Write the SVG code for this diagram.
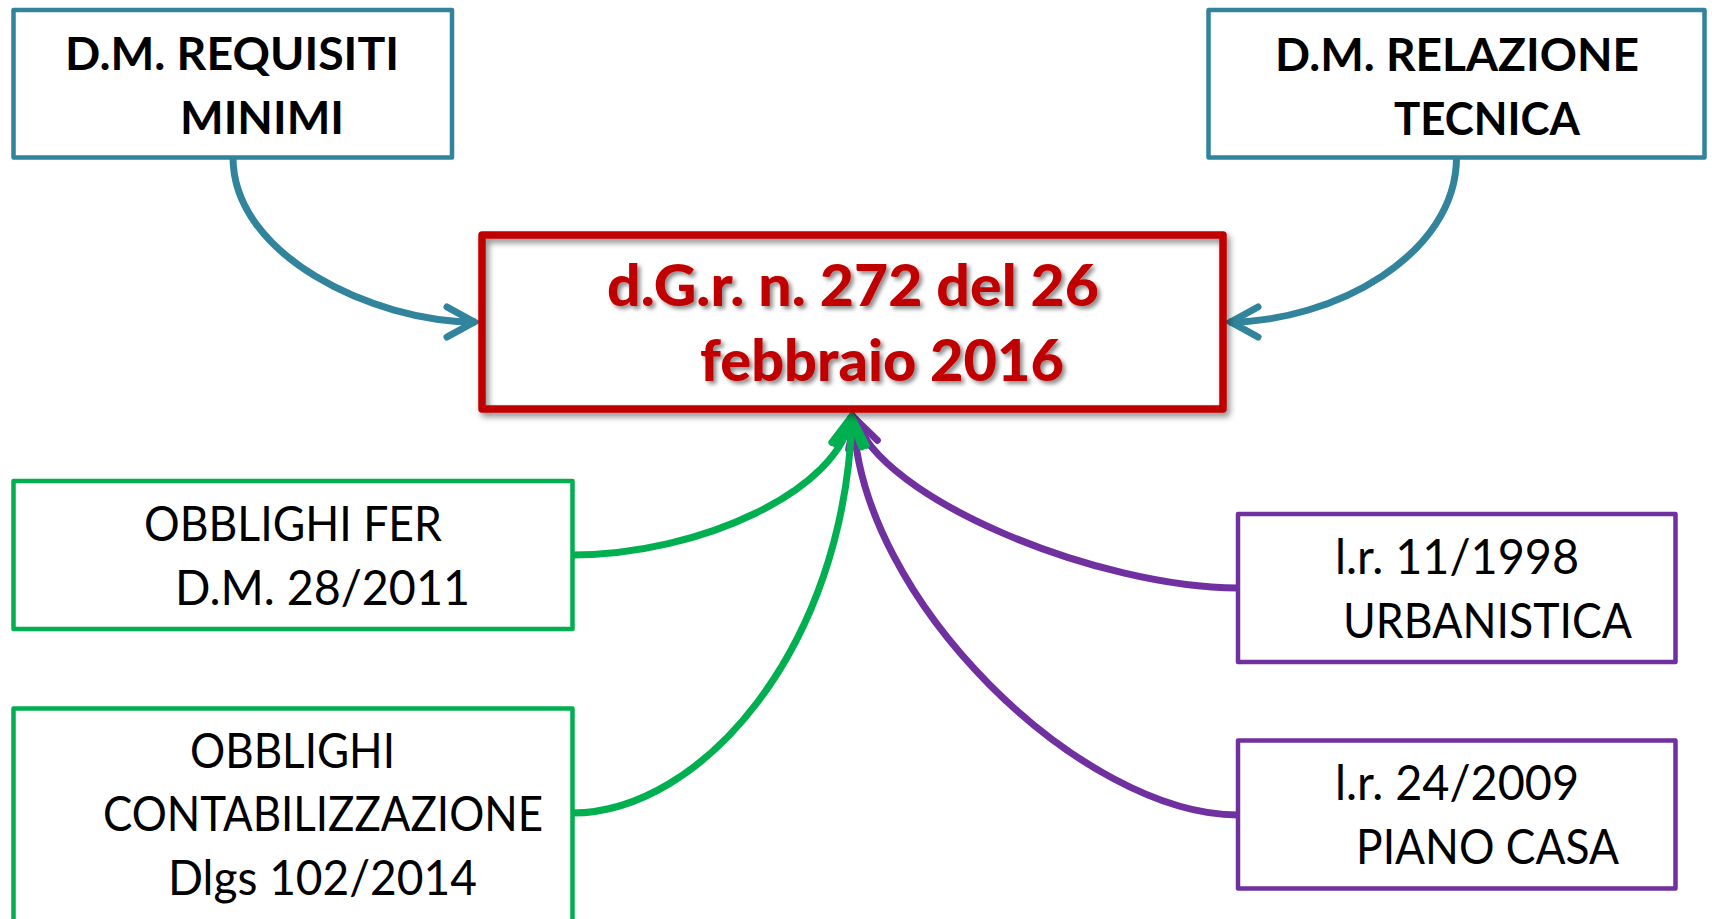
<svg xmlns="http://www.w3.org/2000/svg" width="1712" height="919" viewBox="0 0 1712 919">
  <defs>
    <style>
      .box { fill: #ffffff; stroke-width: 4.5; stroke-linejoin: round; }
      .teal { stroke: #31849B; }
      .green { stroke: #00B050; }
      .purple { stroke: #7030A0; }
      .title { font-family: Lato, "Liberation Sans", sans-serif; font-weight: bold; font-size: 46px; fill: #000000; }
      .label { font-family: Lato, "Liberation Sans", sans-serif; font-size: 49px; fill: #000000; }
      .main { font-family: Lato, "Liberation Sans", sans-serif; font-weight: 900; font-size: 57px; fill: #C00000; }
      .conn { fill: none; stroke-width: 7; stroke-linecap: butt; }
    </style>
    <filter id="shadow" x="-10%" y="-10%" width="125%" height="130%">
      <feDropShadow dx="3" dy="4" stdDeviation="3" flood-color="#000000" flood-opacity="0.45"/>
    </filter>
    <filter id="tshadow" x="-5%" y="-20%" width="115%" height="150%">
      <feDropShadow dx="3" dy="3" stdDeviation="2" flood-color="#000000" flood-opacity="0.45"/>
    </filter>
    <marker id="arrTeal" markerUnits="userSpaceOnUse" markerWidth="60" markerHeight="60" viewBox="-40 -30 60 60" refX="0" refY="0" orient="auto" overflow="visible">
      <path d="M-29,-15 L-1.8,0 L-29,15" fill="none" stroke="#31849B" stroke-width="7" stroke-linecap="round" stroke-linejoin="miter"/>
    </marker>
    <marker id="arrGreen" markerUnits="userSpaceOnUse" markerWidth="60" markerHeight="60" viewBox="-40 -30 60 60" refX="0" refY="0" orient="auto" overflow="visible">
      <path d="M-29,-15 L-1.8,0 L-29,15" fill="none" stroke="#00B050" stroke-width="7" stroke-linecap="round" stroke-linejoin="miter"/>
    </marker>
    <marker id="arrPurple" markerUnits="userSpaceOnUse" markerWidth="60" markerHeight="60" viewBox="-40 -30 60 60" refX="0" refY="0" orient="auto" overflow="visible">
      <path d="M-29,-15 L-1.8,0 L-29,15" fill="none" stroke="#7030A0" stroke-width="7" stroke-linecap="round" stroke-linejoin="miter"/>
    </marker>
  </defs>

  <rect x="0" y="0" width="1712" height="919" fill="#ffffff"/>

  <g id="connectors">
    <path class="conn" stroke="#31849B" marker-end="url(#arrTeal)" d="M233,157.5 C233,255 372,322 476,322"/>
    <path class="conn" stroke="#31849B" marker-end="url(#arrTeal)" d="M1456.5,157.5 C1456.5,255 1333,322 1229,322"/>
    <path class="conn" stroke="#7030A0" marker-end="url(#arrPurple)" d="M1238,588 C1100,588 880,500 854.5,417"/>
    <path class="conn" stroke="#7030A0" marker-end="url(#arrPurple)" d="M1238,815 C1083,815 858,600 853.5,416"/>
    <path class="conn" stroke="#00B050" marker-end="url(#arrGreen)" d="M572.5,555 C700,555 840,490 851,416"/>
    <path class="conn" stroke="#00B050" marker-end="url(#arrGreen)" d="M572.5,813 C700,813 845,650 852,416"/>
  </g>

  <g id="node-dgr">
    <rect x="482" y="235" width="741" height="174" fill="none" stroke="#C00000" stroke-width="7.5" stroke-linejoin="round" filter="url(#shadow)"/>
    <g filter="url(#tshadow)">
      <text class="main" x="607" y="306" textLength="492" lengthAdjust="spacingAndGlyphs">d.G.r. n. 272 del 26</text>
      <text class="main" x="700" y="381" textLength="364" lengthAdjust="spacingAndGlyphs">febbraio 2016</text>
    </g>
  </g>

  <g id="node-requisiti">
    <rect class="box teal" x="13.5" y="10" width="438.5" height="147.5"/>
    <text class="title" x="65" y="70" textLength="334" lengthAdjust="spacingAndGlyphs">D.M. REQUISITI</text>
    <text class="title" x="180" y="134" textLength="164" lengthAdjust="spacingAndGlyphs">MINIMI</text>
  </g>

  <g id="node-relazione">
    <rect class="box teal" x="1208.5" y="10" width="496" height="147.5"/>
    <text class="title" x="1275" y="71" textLength="364" lengthAdjust="spacingAndGlyphs">D.M. RELAZIONE</text>
    <text class="title" x="1394" y="135" textLength="186" lengthAdjust="spacingAndGlyphs">TECNICA</text>
  </g>

  <g id="node-fer">
    <rect class="box green" x="13.5" y="481" width="559" height="148"/>
    <text class="label" x="144" y="541" textLength="298" lengthAdjust="spacingAndGlyphs">OBBLIGHI FER</text>
    <text class="label" x="175" y="605" textLength="295" lengthAdjust="spacingAndGlyphs">D.M. 28/2011</text>
  </g>

  <g id="node-contabilizzazione">
    <rect class="box green" x="13.5" y="708.5" width="559" height="220"/>
    <text class="label" x="190" y="768" textLength="205" lengthAdjust="spacingAndGlyphs">OBBLIGHI</text>
    <text class="label" x="103" y="831" textLength="440" lengthAdjust="spacingAndGlyphs">CONTABILIZZAZIONE</text>
    <text class="label" x="168" y="895" textLength="309" lengthAdjust="spacingAndGlyphs">Dlgs 102/2014</text>
  </g>

  <g id="node-urbanistica">
    <rect class="box purple" x="1238" y="514" width="437.5" height="148"/>
    <text class="label" x="1335" y="574" textLength="244" lengthAdjust="spacingAndGlyphs">l.r. 11/1998</text>
    <text class="label" x="1343" y="638" textLength="289" lengthAdjust="spacingAndGlyphs">URBANISTICA</text>
  </g>

  <g id="node-pianocasa">
    <rect class="box purple" x="1238" y="740.5" width="437.5" height="148"/>
    <text class="label" x="1335" y="800" textLength="244" lengthAdjust="spacingAndGlyphs">l.r. 24/2009</text>
    <text class="label" x="1356" y="864" textLength="263" lengthAdjust="spacingAndGlyphs">PIANO CASA</text>
  </g>
</svg>
